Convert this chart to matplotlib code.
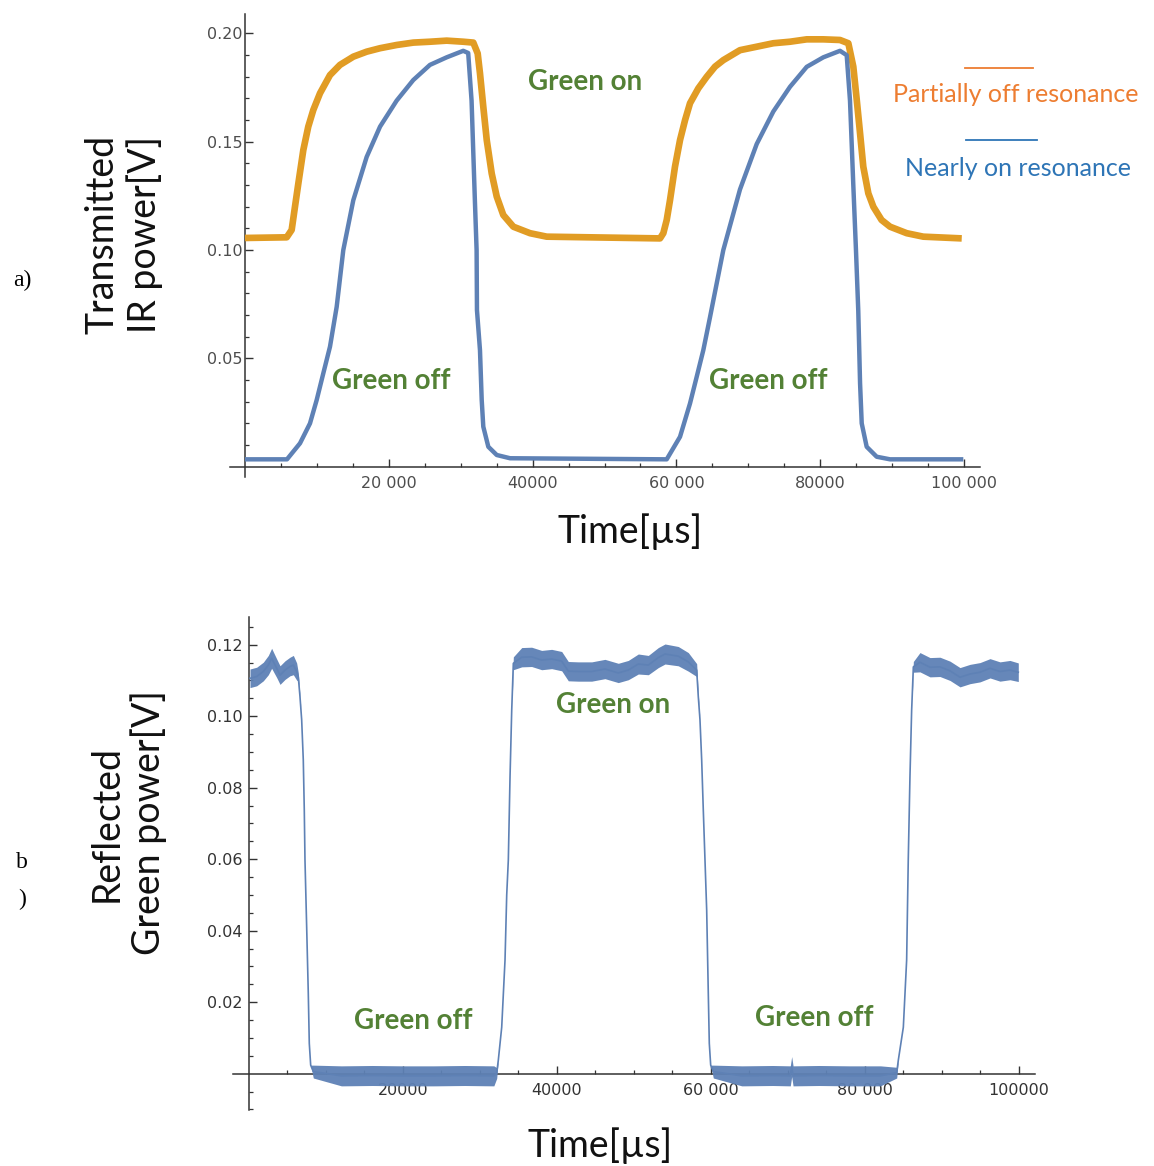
import matplotlib
matplotlib.use("Agg")
import matplotlib.pyplot as plt
from matplotlib.ticker import FixedLocator
from matplotlib.lines import Line2D

# ---------------- data ----------------
# (a) transmitted IR power, time in microseconds, voltage in V
t_orange = [0, 5800, 6490, 6950, 7420, 8110, 8800, 9500, 10430, 11820, 13210, 15070, 16920,
            18780, 21100, 23410, 25730, 28050, 30360, 31750, 32360, 32680, 33140, 33620,
            34310, 35010, 35920, 37320, 39640, 41960, 57720,
            58180, 58650, 59110, 59800, 60500, 61200, 61890, 63050, 64210, 65370, 66520,
            68840, 71170, 73480, 75800, 78120, 80430, 82750, 83910, 84600, 85080, 85540,
            85990, 86690, 87390, 88530, 89710, 92030, 94330, 99680]
v_orange = [0.1056, 0.1059, 0.1093, 0.1200, 0.1308, 0.1462, 0.1570, 0.1647, 0.1724, 0.1808,
            0.1855, 0.1893, 0.1916, 0.1932, 0.1947, 0.1958, 0.1962, 0.1967, 0.1962, 0.1958,
            0.1908, 0.1816, 0.1662, 0.1508, 0.1354, 0.1247, 0.1162, 0.1108, 0.1078, 0.1062,
            0.1054,
            0.1078, 0.1139, 0.1231, 0.1385, 0.1508, 0.1600, 0.1678, 0.1747, 0.1800, 0.1847,
            0.1877, 0.1923, 0.1939, 0.1955, 0.1962, 0.1973, 0.1973, 0.1970, 0.1955, 0.1847,
            0.1693, 0.1539, 0.1385, 0.1262, 0.1200, 0.1139, 0.1108, 0.1078, 0.1062, 0.1054]

t_blue_a = [0, 5840, 7650, 9040, 9970, 10890, 11820, 12750, 13670, 15060, 16920, 18780,
            21090, 23400, 25720, 28050, 30350, 31040, 31510, 31970, 32210, 32260, 32680,
            32920, 33140, 33840, 35010, 36860, 58650, 60500, 61890, 62820, 63740, 64670,
            65600, 66520, 68840, 71170, 73480, 75800, 78120, 80430, 82750, 83680, 84140,
            84600, 84970, 85290, 85540, 85770, 86460, 87850, 89710, 99900]
v_blue_a = [0.0034, 0.0034, 0.0108, 0.0200, 0.0308, 0.0431, 0.0554, 0.0738, 0.1000, 0.1230,
            0.1430, 0.1570, 0.1690, 0.1785, 0.1855, 0.1890, 0.1920, 0.1910, 0.1690, 0.1230,
            0.1000, 0.0723, 0.0538, 0.0308, 0.0185, 0.0092, 0.0054, 0.0039, 0.0034, 0.0138,
            0.0292, 0.0415, 0.0538, 0.0690, 0.0846, 0.1000, 0.1280, 0.1490, 0.1640, 0.1754,
            0.1846, 0.1890, 0.1920, 0.1900, 0.1690, 0.1300, 0.1000, 0.0720, 0.0385, 0.0200,
            0.0092, 0.0046, 0.0034, 0.0034]

# (b) reflected green power: centre of the noisy trace and half-width of its noise band
t_b = [130, 1000, 1860, 2510, 2940, 3600, 4030, 4680, 5320, 5760, 6190,
       6400, 6620, 6840, 7050, 7180, 7270, 7490, 7700, 7830, 8010, 8350,
       12000, 16000, 20000, 24000, 28000, 31800, 32170,
       32380, 32820, 33250, 33470, 33680, 33900, 34120,
       34330, 35420, 36710, 38010, 39310, 40610, 41470, 42770, 44510, 46230, 47960, 49260,
       50560, 51860, 53160, 54030, 55750, 57050, 58140,
       58350, 58570, 58790, 59000, 59220, 59440, 59650, 59780, 59960, 60300,
       64000, 68000, 70300, 70480, 70660, 74000, 78000, 82000, 84120,
       84330, 84980, 85410, 85620, 85840, 86060,
       86280, 87140, 88440, 89740, 91040, 92340, 93640, 94940, 96240, 97530, 98830, 99910]
v_b = [0.1106, 0.1111, 0.1125, 0.1143, 0.1162, 0.1134, 0.1115, 0.1129, 0.1139, 0.1143, 0.1125,
       0.1110, 0.1055, 0.0990, 0.0878, 0.0738, 0.0598, 0.0410, 0.0225, 0.0085, 0.0024, 0.0006,
       -0.0006, -0.0005, -0.0006, -0.0006, -0.0005, -0.0006, 0.0002,
       0.0038, 0.0130, 0.0318, 0.0500, 0.0598, 0.0830, 0.1017,
       0.1148, 0.1165, 0.1166, 0.1157, 0.1160, 0.1154, 0.1126, 0.1125, 0.1125, 0.1132, 0.1121,
       0.1129, 0.1146, 0.1143, 0.1164, 0.1174, 0.1168, 0.1152, 0.1129,
       0.1055, 0.0990, 0.0878, 0.0738, 0.0598, 0.0458, 0.0225, 0.0085, 0.0024, 0.0006,
       -0.0006, -0.0005, -0.0006, 0.0020, -0.0006, -0.0005, -0.0006, -0.0006, 0.0003,
       0.0038, 0.0130, 0.0318, 0.0598, 0.0830, 0.1017,
       0.1138, 0.1151, 0.1137, 0.1138, 0.1127, 0.1109, 0.1118, 0.1123, 0.1134, 0.1125, 0.1129,
       0.1123]
w_b = [0.0026, 0.0026, 0.0026, 0.0027, 0.0028, 0.0026, 0.0026, 0.0026, 0.0026, 0.0027, 0.0024,
       0.0012, 0.0003, 0, 0, 0, 0, 0, 0, 0, 0, 0.0018,
       0.0028, 0.0028, 0.0028, 0.0028, 0.0028, 0.0028, 0.0015,
       0, 0, 0, 0, 0, 0, 0,
       0.0018, 0.0027, 0.0027, 0.0027, 0.0027, 0.0027, 0.0027, 0.0027, 0.0027, 0.0027, 0.0027,
       0.0027, 0.0028, 0.0027, 0.0028, 0.0028, 0.0027, 0.0026, 0.0018,
       0.0008, 0, 0, 0, 0, 0, 0, 0, 0, 0.0018,
       0.0028, 0.0028, 0.0028, 0.0028, 0.0028, 0.0028, 0.0028, 0.0028, 0.0015,
       0, 0, 0, 0, 0, 0,
       0.0015, 0.0027, 0.0027, 0.0027, 0.0027, 0.0027, 0.0027, 0.0027, 0.0027, 0.0027, 0.0027,
       0.0026]

x_ticks = [20000, 40000, 60000, 80000, 100000]
x_labels_a = ["20 000", "40000", "60 000", "80000", "100 000"]
x_labels_b = ["20000", "40000", "60 000", "80 000", "100000"]
y_ticks_a = [0.05, 0.10, 0.15, 0.20]
y_labels_a = ["0.05", "0.10", "0.15", "0.20"]
y_ticks_b = [0.02, 0.04, 0.06, 0.08, 0.10, 0.12]
y_labels_b = ["0.02", "0.04", "0.06", "0.08", "0.10", "0.12"]

# ---------------- figure ----------------
W, H = 1154, 1166
fig = plt.figure(figsize=(W / 100, H / 100), dpi=100)

BLUE = "#5E81B5"
ORANGE = "#E19C24"
GREEN = "#538135"
AXC = "#333333"


def px(x, y):
    return x / W, 1 - y / H


def style_axes(ax, xt, xl, yt, yl, ymin_minor, ymax_minor, ystep, ypad, tcol):
    for s in ("top", "right"):
        ax.spines[s].set_visible(False)
    ax.spines["left"].set_position(("data", 0))
    ax.spines["bottom"].set_position(("data", 0))
    for s in ("left", "bottom"):
        ax.spines[s].set_color(AXC)
        ax.spines[s].set_linewidth(1.1)
    ax.set_xticks(xt)
    ax.set_xticklabels(xl)
    ax.set_yticks(yt)
    ax.set_yticklabels(yl)
    ax.xaxis.set_minor_locator(FixedLocator([m for m in range(5000, 105000, 5000) if m % 20000]))
    n0 = int(round(ymin_minor / ystep))
    n1 = int(round(ymax_minor / ystep))
    ax.yaxis.set_minor_locator(FixedLocator([k * ystep for k in range(n0, n1 + 1) if k != 0]))
    ax.tick_params(axis="both", which="major", direction="in", length=6, width=1.0, color=AXC,
                   labelsize=11.5, labelcolor=tcol)
    ax.tick_params(axis="both", which="minor", direction="in", length=3, width=0.9, color=AXC)
    ax.tick_params(axis="x", which="major", pad=7)
    ax.tick_params(axis="y", which="major", pad=ypad)
    ax.set_facecolor("none")


# ---- panel (a) ----
ax1 = fig.add_axes([230 / W, 1 - 476.7 / H, 750 / W, 462.7 / H])
ax1.plot(t_orange, v_orange, color=ORANGE, lw=4.8, solid_joinstyle="round",
         solid_capstyle="butt", zorder=3)
ax1.plot(t_blue_a, v_blue_a, color=BLUE, lw=3.2, solid_joinstyle="round",
         solid_capstyle="butt", zorder=4)
ax1.set_xlim(-2086, 102220)
ax1.set_ylim(-0.00462, 0.2090)
style_axes(ax1, x_ticks, x_labels_a, y_ticks_a, y_labels_a, 0.01, 0.20, 0.01, 2.0, "#4d4d4d")

# ---- panel (b) ----
ax2 = fig.add_axes([233 / W, 1 - 1110 / H, 802 / W, 493 / H])
lo = [v - w for v, w in zip(v_b, w_b)]
hi = [v + w for v, w in zip(v_b, w_b)]
ax2.fill_between(t_b, lo, hi, color=BLUE, lw=0, alpha=0.95, zorder=3)
ax2.plot(t_b, v_b, color=BLUE, lw=1.2, zorder=4)
ax2.set_xlim(-2078, 102080)
ax2.set_ylim(-0.01015, 0.12775)
style_axes(ax2, x_ticks, x_labels_b, y_ticks_b, y_labels_b, -0.01, 0.125, 0.005, 4.5, "#333333")

# ---------------- texts ----------------
LFONT = ["Lato", "DejaVu Sans"]
fig.text(*px(124, 234), "Transmitted\nIR power[V]", rotation=90, ha="center", va="center",
         fontsize=27, family=LFONT, color="#111111", linespacing=1.2)
fig.text(*px(630, 532), "Time[µs]", ha="center", va="center", fontsize=27, family=LFONT,
         color="#111111")
fig.text(*px(128, 823), "Reflected\nGreen power[V]", rotation=90, ha="center", va="center",
         fontsize=27, family=LFONT, color="#111111", linespacing=1.2)
fig.text(*px(600, 1146), "Time[µs]", ha="center", va="center", fontsize=27, family=LFONT,
         color="#111111")

SFONT = ["Liberation Serif", "DejaVu Serif"]
fig.text(*px(22, 280), "a)", ha="center", va="center", fontsize=17, family=SFONT)
fig.text(*px(22, 862), "b", ha="center", va="center", fontsize=17, family=SFONT)
fig.text(*px(22, 899), ")", ha="center", va="center", fontsize=17, family=SFONT)

for (x, y, s) in [(585, 82, "Green on"), (391, 381, "Green off"), (768, 381, "Green off"),
                  (613, 705, "Green on"), (413, 1021, "Green off"), (814, 1018, "Green off")]:
    fig.text(*px(x, y), s, ha="center", va="center", fontsize=20, fontweight="bold",
             family=LFONT, color=GREEN)

fig.text(*px(1016, 95), "Partially off resonance", ha="center", va="center", fontsize=18,
         family=LFONT, color="#ED7D31")
fig.text(*px(1018, 169), "Nearly on resonance", ha="center", va="center", fontsize=18,
         family=LFONT, color="#2E75B6")
fig.add_artist(Line2D([965 / W, 1033 / W], [1 - 68 / H, 1 - 68 / H], color="#ED7D31", lw=1.3,
                      transform=fig.transFigure))
fig.add_artist(Line2D([966 / W, 1037 / W], [1 - 140 / H, 1 - 140 / H], color="#2E75B6", lw=1.3,
                      transform=fig.transFigure))

fig.savefig("out.png", dpi=100, facecolor="white")
